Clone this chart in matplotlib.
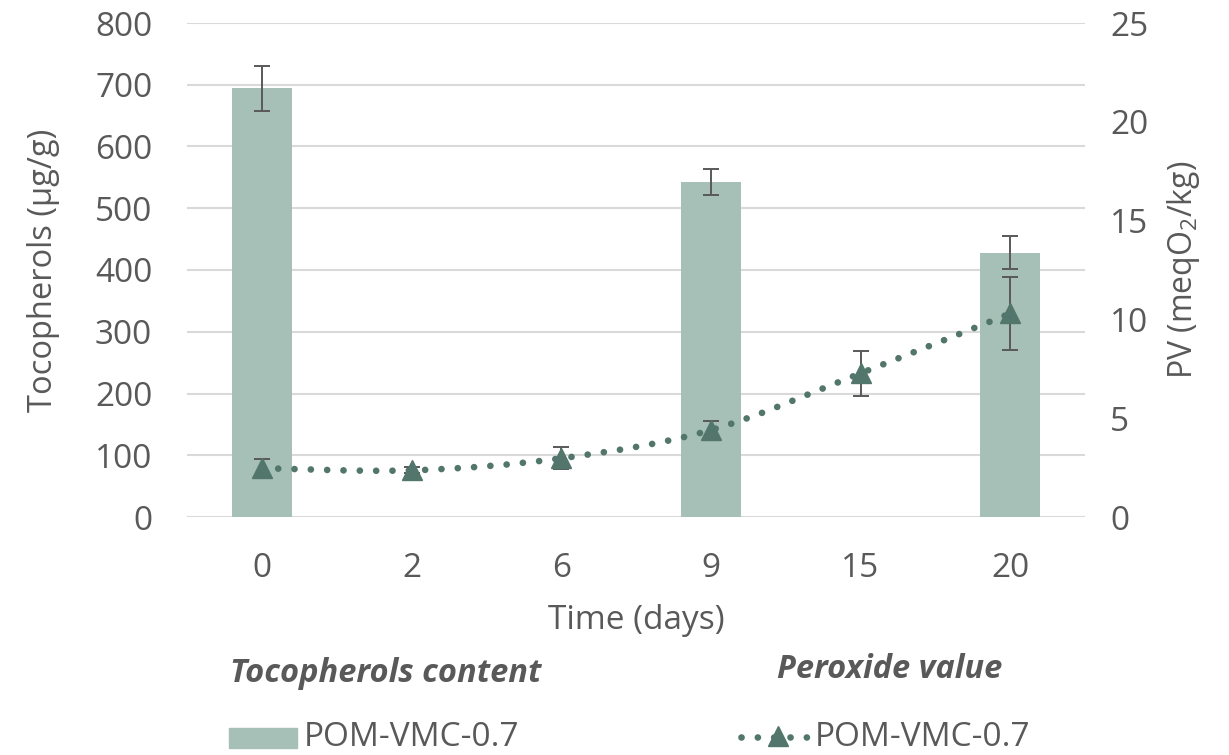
import matplotlib
matplotlib.use("Agg")
import matplotlib.pyplot as plt
import numpy as np
from matplotlib.path import Path
from matplotlib.patches import PathPatch, Rectangle
from matplotlib.lines import Line2D

plt.rcParams['font.family'] = ['Open Sans', 'DejaVu Sans']
plt.rcParams['mathtext.fontset'] = 'custom'
plt.rcParams['mathtext.rm'] = 'Open Sans'
plt.rcParams['mathtext.it'] = 'Open Sans:italic'

# data
days = ['0', '2', '6', '9', '15', '20']
toco_idx = [0, 3, 5]
toco = [694, 542, 428]
toco_err = [36, 21, 27]
pv = [2.47, 2.36, 2.97, 4.40, 7.27, 10.3]
pv_err = [0.45, 0.15, 0.55, 0.47, 1.14, 1.85]

BAR = '#A6C0B8'
LINE = '#52766B'
TXT = '#595959'
GRID = '#D9D9D9'
FS = 24
DOTS = (0, (0.01, 2.44))

fig = plt.figure(figsize=(12.29, 7.55), dpi=100)
ax = fig.add_axes([187 / 1229, 1 - 517 / 755, (1085 - 187) / 1229, (517 - 23) / 755])
ax2 = ax.twinx()

x = np.arange(len(days))
ax.bar(toco_idx, toco, width=0.4, color=BAR, zorder=2)
ax.errorbar(toco_idx, toco, yerr=toco_err, fmt='none', ecolor=TXT,
            elinewidth=1.4, capsize=6, capthick=1.4, zorder=3)

ax.set_xlim(-0.5, len(days) - 0.5)
ax.set_ylim(0, 800)
ax.set_yticks(range(0, 801, 100))
ax.set_xticks(x)
ax.set_xticklabels(days)
ax.grid(axis='y', color=GRID, linewidth=1.5, zorder=0)
ax.set_axisbelow(True)
for s in ax.spines.values():
    s.set_visible(False)
for s in ax2.spines.values():
    s.set_visible(False)
ax.tick_params(axis='both', length=0, labelsize=FS, labelcolor=TXT)
ax.tick_params(axis='x', pad=25)
ax.tick_params(axis='y', pad=25)
ax.set_xlabel('Time (days)', fontsize=FS, color=TXT, labelpad=14)
ax.set_ylabel('Tocopherols (µg/g)', fontsize=FS - 0.5, color=TXT, labelpad=25)

# smoothed PV line (Excel-like bezier through the points)
ax2.set_ylim(0, 25)
ax2.set_yticks(range(0, 26, 5))
ax2.tick_params(axis='y', length=0, labelsize=FS, labelcolor=TXT, pad=18)
ax2.set_ylabel('PV (meqO$_2$/kg)', fontsize=FS - 1, color=TXT, labelpad=12)

P = np.column_stack([x, pv]).astype(float)
verts = [P[0]]
codes = [Path.MOVETO]
n = len(P)
for i in range(n - 1):
    p0 = P[i - 1] if i > 0 else P[i]
    p3 = P[i + 2] if i + 2 < n else P[i + 1]
    c1 = P[i] + (P[i + 1] - p0) / 6
    c2 = P[i + 1] - (p3 - P[i]) / 6
    verts += [c1, c2, P[i + 1]]
    codes += [Path.CURVE4] * 3
curve = PathPatch(Path(verts, codes), fill=False, edgecolor=LINE, linewidth=4.8,
                  linestyle=DOTS, capstyle='round', zorder=4)
ax2.add_patch(curve)
ax2.errorbar(x, pv, yerr=pv_err, fmt='none', ecolor=TXT, elinewidth=1.4,
             capsize=6, capthick=1.4, zorder=5)
ax2.plot(x, pv, linestyle='none', marker='^', markersize=15, color=LINE, zorder=6)

# legend area
fig.text(230 / 1229, 1 - 673 / 755, 'Tocopherols content', fontsize=23.5,
         fontweight='bold', fontstyle='italic', color=TXT, va='center', ha='left')
fig.text(890 / 1229, 1 - 670 / 755, 'Peroxide value', fontsize=23.5,
         fontweight='bold', fontstyle='italic', color=TXT, va='center', ha='center')
fig.patches.append(Rectangle((229 / 1229, 1 - 748 / 755), 68 / 1229, 20 / 755,
                             transform=fig.transFigure, color=BAR))
fig.text(304 / 1229, 1 - 737 / 755, 'POM-VMC-0.7', fontsize=FS, color=TXT,
         va='center', ha='left')
fig.lines.append(Line2D([741 / 1229, 808 / 1229], [1 - 737 / 755] * 2,
                        transform=fig.transFigure, color=LINE, linewidth=4.8,
                        linestyle=DOTS, dash_capstyle='round'))
fig.lines.append(Line2D([778 / 1229], [1 - 736 / 755], transform=fig.transFigure,
                        marker='^', markersize=15, color=LINE, linestyle='none'))
fig.text(815 / 1229, 1 - 737 / 755, 'POM-VMC-0.7', fontsize=FS, color=TXT,
         va='center', ha='left')

fig.savefig('out.png', dpi=100, facecolor='white')
